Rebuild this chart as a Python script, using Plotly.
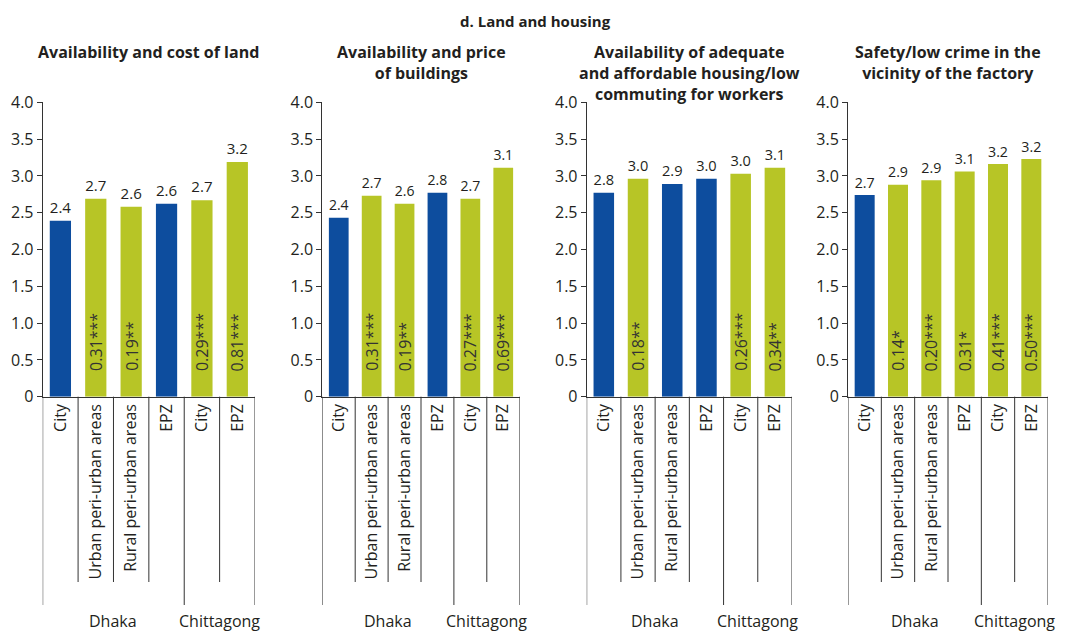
import plotly.graph_objects as go

# ---------------- data ----------------
categories = ["City", "Urban peri-urban areas", "Rural peri-urban areas", "EPZ", "City", "EPZ"]
groups = ["Dhaka", "Chittagong"]
group_centers = [1.5, 4.5]  # category-index centre of each group

panel_titles = [
    "Availability and cost of land",
    "Availability and price<br>of buildings",
    "Availability of adequate<br>and affordable housing/low<br>commuting for workers",
    "Safety/low crime in the<br>vicinity of the factory",
]

land_values = [2.39, 2.69, 2.58, 2.62, 2.67, 3.19]
buildings_values = [2.43, 2.73, 2.62, 2.77, 2.69, 3.11]
housing_values = [2.77, 2.96, 2.89, 2.96, 3.03, 3.11]
safety_values = [2.74, 2.88, 2.94, 3.06, 3.16, 3.23]

land_sig = ["", "0.31***", "0.19**", "", "0.29***", "0.81***"]
buildings_sig = ["", "0.31***", "0.19**", "", "0.27***", "0.69***"]
housing_sig = ["", "0.18**", "", "", "0.26***", "0.34**"]
safety_sig = ["", "0.14*", "0.20***", "0.31*", "0.41***", "0.50***"]

y_tickvals = [0, 0.5, 1.0, 1.5, 2.0, 2.5, 3.0, 3.5, 4.0]
y_ticktext = ["0", "0.5", "1.0", "1.5", "2.0", "2.5", "3.0", "3.5", "4.0"]

heading = "d. Land and housing"

# ---------------- style ----------------
OFF = 8                      # page body margin in the browser
W, H = 1070 - OFF, 635 - OFF  # figure size so it fits the window
BLUE = "#0d4d9e"
GREEN = "#b7c526"
TXT = "#231f20"
AX = "#333333"
FONT = "Open Sans"


def px_x(p):
    return (p - OFF) / W


def px_y(p):
    return (H - (p - OFF)) / H


panels = [
    (land_values, land_sig),
    (buildings_values, buildings_sig),
    (housing_values, housing_sig),
    (safety_values, safety_sig),
]
# plot-area x extents in screen pixels
x_px = [(42.7, 255.0), (322.3, 519.7), (586.7, 792.0), (848.0, 1048.0)]
y0_px, y4_px = 396.7, 102.3
ydom = [px_y(y0_px), px_y(y4_px)]

fig = go.Figure()
annotations = []
shapes = []
xs = list(range(len(categories)))

for k, (vals, sig) in enumerate(panels):
    n = "" if k == 0 else str(k + 1)
    xa, ya = "x" + n, "y" + n
    colors = [GREEN if s else BLUE for s in sig]
    fig.add_trace(go.Bar(
        x=xs, y=vals, xaxis=xa, yaxis=ya,
        marker=dict(color=colors, line=dict(width=0)),
        width=0.6,
        texttemplate="%{y:.1f}", textposition="outside",
        textfont=dict(family=FONT, size=16, color=TXT),
        cliponaxis=False, showlegend=False, hoverinfo="skip",
    ))
    dom = [px_x(x_px[k][0]), px_x(x_px[k][1])]
    fig.layout["xaxis" + n] = dict(
        domain=dom, anchor=ya, range=[-0.5, len(categories) - 0.5],
        tickmode="array", tickvals=xs, ticktext=categories, tickangle=-90,
        showline=True, linecolor=AX, linewidth=1, ticks="", showgrid=False,
        zeroline=False, fixedrange=True, automargin=False,
        tickfont=dict(family=FONT, size=16, color=TXT),
    )
    fig.layout["yaxis" + n] = dict(
        domain=ydom, anchor=xa, range=[0, 4],
        tickmode="array", tickvals=y_tickvals, ticktext=y_ticktext,
        showline=True, linecolor=AX, linewidth=1, ticks="outside", ticklen=5,
        tickcolor=AX, showgrid=False, zeroline=False, fixedrange=True,
        automargin=False,
        tickfont=dict(family=FONT, size=16, color=TXT),
    )
    # significance labels inside bars
    for i, s in enumerate(sig):
        if s:
            annotations.append(dict(
                x=i, y=0.32, xref=xa, yref=ya, text=s, textangle=-90,
                showarrow=False, xanchor="center", yanchor="bottom",
                font=dict(family=FONT, size=16, color="#333333"),
            ))
    # group labels
    for g, c in zip(groups, group_centers):
        annotations.append(dict(
            x=c, y=px_y(621), xref=xa, yref="paper", text=g,
            showarrow=False, xanchor="center", yanchor="middle",
            font=dict(family=FONT, size=16, color=TXT),
        ))
    # category divider lines
    for j in range(len(categories) + 1):
        tall = j in (0, 4, len(categories))
        bottom = 605 if tall else 582
        shapes.append(dict(
            type="line", xref=xa, yref="paper",
            x0=j - 0.5, x1=j - 0.5, y0=ydom[0], y1=px_y(bottom),
            line=dict(color=AX, width=1),
        ))
    # panel title
    annotations.append(dict(
        x=(dom[0] + dom[1]) / 2, y=px_y(39), xref="paper", yref="paper",
        text="<b>" + panel_titles[k] + "</b>", showarrow=False,
        xanchor="center", yanchor="top", align="center",
        font=dict(family=FONT, size=16, color=TXT),
    ))

annotations.append(dict(
    x=px_x(535), y=px_y(9), xref="paper", yref="paper",
    text="<b>" + heading + "</b>", showarrow=False,
    xanchor="center", yanchor="top",
    font=dict(family=FONT, size=15, color=TXT),
))

fig.update_layout(
    width=W, height=H, margin=dict(l=0, r=0, t=0, b=0),
    paper_bgcolor="white", plot_bgcolor="white",
    annotations=annotations, shapes=shapes,
    font=dict(family=FONT, color=TXT),
)

fig.write_html("out.html")
